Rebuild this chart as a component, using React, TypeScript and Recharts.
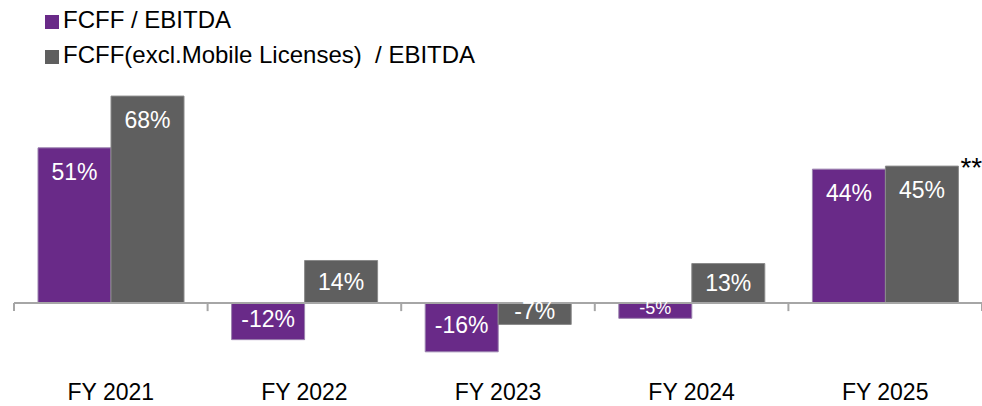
import React from 'react';
import { BarChart, Bar, XAxis, YAxis, ReferenceLine, LabelList } from 'recharts';

const categories = ['FY 2021', 'FY 2022', 'FY 2023', 'FY 2024', 'FY 2025'];
const fcffEbitda = [51, -12, -16, -5, 44];
const fcffExclEbitda = [68, 14, -7, 13, 45];
const exclNotes = ['', '', '', '', '**'];
const seriesNames = ['FCFF / EBITDA', 'FCFF(excl.Mobile Licenses)  / EBITDA'];
const seriesColors = ['#692A88', '#5F5F5F'];
const seriesStrokes = ['#9A82AE', '#8A8A8A'];
const yDomain: [number, number] = [-20, 70];

const data = categories.map((c, i) => ({
  name: c,
  a: fcffEbitda[i],
  b: fcffExclEbitda[i],
  note: exclNotes[i],
}));

const FONT = '"Liberation Sans", Arial, Helvetica, sans-serif';

const makeLabel = (withNotes: boolean) => (props: any) => {
  const vb = props.viewBox || {};
  const x = Number(props.x ?? vb.x);
  const y = Number(props.y ?? vb.y);
  const w = Number(props.width ?? vb.width);
  const h = Number(props.height ?? vb.height);
  const value = Number(props.value);
  if (![x, y, w, h, value].every((v) => Number.isFinite(v))) return null;
  const top = Math.min(y, y + h);
  const hh = Math.abs(h);
  const fs = hh < 18 ? 18 : 23;
  const center = value >= 0 ? Math.min(top + hh / 2, top + 24) : top + hh / 2 - 3;
  const idx = props.index;
  const note = withNotes && idx != null ? exclNotes[idx] : '';
  return (
    <g>
      <text
        x={x + w / 2}
        y={center + fs * 0.355}
        textAnchor="middle"
        fill="#FFFFFF"
        fontSize={fs}
        fontFamily={FONT}
      >
        {`${value}%`}
      </text>
      {note ? (
        <text x={x + w + 2} y={top + 11} fill="#000000" fontSize={28} fontFamily={FONT}>
          {note}
        </text>
      ) : null}
    </g>
  );
};

const AxisShape = (props: any) => {
  const { x1, y1, x2 } = props;
  const n = categories.length;
  const step = (x2 - x1) / n;
  const ticks = Array.from({ length: n + 1 }, (_, i) => x1 + i * step);
  return (
    <g>
      <line x1={x1} x2={x2} y1={y1} y2={y1} stroke="#A6A6A6" strokeWidth={2} />
      {ticks.map((tx, i) => (
        <line key={i} x1={tx} x2={tx} y1={y1} y2={y1 + 8} stroke="#A6A6A6" strokeWidth={2} />
      ))}
    </g>
  );
};

const XTick = (props: any) => {
  const { x, y, payload } = props;
  return (
    <text x={x} y={y + 36} textAnchor="middle" fill="#000000" fontSize={23} fontFamily={FONT}>
      {payload.value}
    </text>
  );
};

export default function App() {
  return (
    <div style={{ position: 'absolute', left: 0, top: 0, width: 982, height: 406, background: '#fff' }}>
      <BarChart
        width={982}
        height={406}
        data={data}
        margin={{ top: 90, right: 0, bottom: 0, left: 14 }}
        barCategoryGap="12.4%"
        barGap={0}
      >
        <XAxis
          dataKey="name"
          height={42}
          axisLine={false}
          tickLine={false}
          tickSize={0}
          tickMargin={0}
          tick={<XTick />}
          interval={0}
        />
        <YAxis hide domain={yDomain} />
        <Bar dataKey="a" name={seriesNames[0]} fill={seriesColors[0]} stroke={seriesStrokes[0]} strokeWidth={1} isAnimationActive={false}>
          <LabelList dataKey="a" content={makeLabel(false)} />
        </Bar>
        <Bar dataKey="b" name={seriesNames[1]} fill={seriesColors[1]} stroke={seriesStrokes[1]} strokeWidth={1} isAnimationActive={false}>
          <LabelList dataKey="b" content={makeLabel(true)} />
        </Bar>
        <ReferenceLine y={0} shape={AxisShape} ifOverflow="visible" />
      </BarChart>
      <svg
        width={982}
        height={80}
        style={{ position: 'absolute', left: 0, top: 0, pointerEvents: 'none' }}
      >
        {seriesNames.map((name, i) => (
          <g key={name}>
            <rect x={45} y={15 + i * 35} width={14} height={14} fill={seriesColors[i]} />
            <text
              x={63}
              y={28 + i * 35}
              fontSize={24}
              fontFamily={FONT}
              fill="#000000"
              style={{ whiteSpace: 'pre' }}
            >
              {name}
            </text>
          </g>
        ))}
      </svg>
    </div>
  );
}
